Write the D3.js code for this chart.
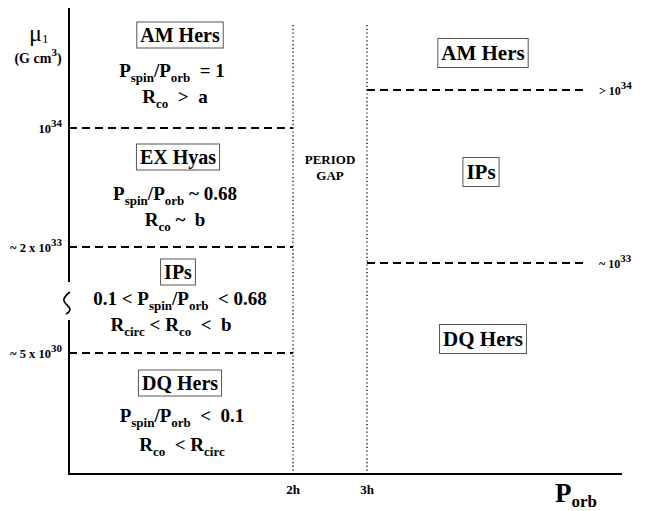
<!DOCTYPE html>
<html>
<head>
<meta charset="utf-8">
<script src="https://cdn.jsdelivr.net/npm/d3@7"></script>
<style>
  html, body { margin: 0; padding: 0; background: #fff; }
  svg { display: block; }
</style>
</head>
<body>
<svg id="chart" width="653" height="511"></svg>
<script>
// ---------- data ----------
const leftLogMu      = [34, 33.3, 30.7];                  // boundaries, log10(mu_1 / G cm^3)
const leftTickLabels = ["10", "~ 2 x 10", "~ 5 x 10"];
const leftTickExps   = ["34", "33", "30"];
const rightLogMu      = [34, 33];
const rightTickLabels = ["> 10", "~ 10"];
const rightTickExps   = ["34", "33"];
const gapHours  = [2, 3];
const gapLabels = ["2h", "3h"];
const leftClasses  = ["AM Hers", "EX Hyas", "IPs", "DQ Hers"];
const rightClasses = ["AM Hers", "IPs", "DQ Hers"];
// conditions for each left-hand class: [text, "sub"|undefined]
const leftConditions = [
  [[["P"],["spin","sub"],["/P"],["orb","sub"],["  = 1"]], [["R"],["co","sub"],["  >  a"]]],
  [[["P"],["spin","sub"],["/P"],["orb","sub"],[" ~ 0.68"]], [["R"],["co","sub"],[" ~  b"]]],
  [[["0.1 < P"],["spin","sub"],["/P"],["orb","sub"],["  < 0.68"]], [["R"],["circ","sub"],[" < R"],["co","sub"],["  <  b"]]],
  [[["P"],["spin","sub"],["/P"],["orb","sub"],["  <  0.1"]], [["R"],["co","sub"],["  < R"],["circ","sub"]]]
];

// ---------- scales ----------
const svg = d3.select("#chart")
  .style("font-family", "'Liberation Serif', 'Times New Roman', serif")
  .style("font-weight", "bold");
const x = d3.scaleLinear().domain([2, 3]).range([293, 367]);
const yLeft = d3.scaleLinear().domain([30.7, 33.3, 34]).range([353, 247, 128]);
const yRight = d3.scaleLinear().domain([33, 34]).range([263, 90]);

const axisX0 = 69, axisX1 = 622, axisYTop = 8, axisYBot = 474, breakTop = 282, breakBot = 320;

function rich(g, tx, ty, parts, size, subSize, anchor, subShift) {
  const t = g.append("text").attr("x", tx).attr("y", ty)
    .attr("text-anchor", anchor || "middle").attr("font-size", size)
    .style("font-family", "'Liberation Serif', serif").style("font-weight", "bold")
    .attr("xml:space", "preserve").style("white-space", "pre");
  let shift = 0;
  parts.forEach(([s, type]) => {
    const target = type === "sub" ? (subShift != null ? subShift : size * 0.28) : type === "sup" ? -size * 0.5 : 0;
    t.append("tspan").attr("dy", target - shift)
      .attr("font-size", type ? subSize : size).text(s);
    shift = target;
  });
  return t;
}
function plain(tx, ty, s, size, anchor) {
  return svg.append("text").attr("x", tx).attr("y", ty).attr("text-anchor", anchor || "middle")
    .attr("font-size", size).style("font-family", "'Liberation Serif', serif").style("font-weight", "bold")
    .text(s);
}

// ---------- axes ----------
const ax = svg.append("g").attr("stroke", "#000").attr("stroke-width", 2).attr("fill", "none");
ax.append("line").attr("x1", axisX0).attr("x2", axisX0).attr("y1", axisYTop).attr("y2", breakTop);
ax.append("line").attr("x1", axisX0).attr("x2", axisX0).attr("y1", breakBot).attr("y2", axisYBot + 1);
ax.append("line").attr("x1", axisX0 - 1).attr("x2", axisX1).attr("y1", axisYBot).attr("y2", axisYBot);
// axis-break squiggle
ax.append("path").attr("stroke-width", 1.6)
  .attr("d", "M70,292 C66,295 63,298 64,301 C65,304 70,307 70,309 C70,311 68,313 66,314");

// ---------- period gap dotted lines ----------
svg.append("g").selectAll("line").data(gapHours).join("line")
  .attr("x1", d => x(d)).attr("x2", d => x(d)).attr("y1", 25).attr("y2", axisYBot)
  .attr("stroke", "#000").attr("stroke-width", 1.3).attr("stroke-dasharray", "1.2,2.6");

gapLabels.forEach((d, i) => plain(x(gapHours[i]), 494, d, 13));

plain((x(2) + x(3)) / 2, 164, "PERIOD", 13);
plain((x(2) + x(3)) / 2, 180, "GAP", 13);

// ---------- boundaries ----------
svg.append("g").selectAll("line").data(leftLogMu).join("line")
  .attr("x1", axisX0).attr("x2", x(2)).attr("y1", d => yLeft(d)).attr("y2", d => yLeft(d))
  .attr("stroke", "#000").attr("stroke-width", 2).attr("stroke-dasharray", "8,5");
svg.append("g").selectAll("line").data(rightLogMu).join("line")
  .attr("x1", x(3)).attr("x2", 588).attr("y1", d => yRight(d)).attr("y2", d => yRight(d))
  .attr("stroke", "#000").attr("stroke-width", 2).attr("stroke-dasharray", "8,5");

leftLogMu.forEach((v, i) => {
  rich(svg, 62, yLeft(v) + 5, [[leftTickLabels[i]], [leftTickExps[i], "sup"]], 12.5, 11, "end");
});
rightLogMu.forEach((v, i) => {
  rich(svg, 599, yRight(v) + 5, [[rightTickLabels[i]], [rightTickExps[i], "sup"]], 12, 11, "start");
});

// ---------- axis titles ----------
svg.append("text").attr("x", 29).attr("y", 41).attr("font-size", 24)
  .style("font-family", "'Liberation Serif', serif").style("font-weight", "normal")
  .text("\u03bc").append("tspan").attr("dy", 2).attr("font-size", 13).text("1");
rich(svg, 38, 63, [["(G cm"], ["3", "sup"], [")"]], 14, 11, "middle");
rich(svg, 555, 502, [["P"], ["orb", "sub"]], 27, 17, "start", 5);

// ---------- class boxes ----------
function labelBox(cx, cy, label, size, padX, h) {
  const g = svg.append("g");
  const t = g.append("text").attr("x", cx).attr("y", cy + size * 0.33).attr("text-anchor", "middle")
    .attr("font-size", size).style("font-family", "'Liberation Serif', serif").style("font-weight", "bold")
    .text(label);
  const w = t.node().getComputedTextLength() + 2 * padX;
  g.insert("rect", "text").attr("x", cx - w / 2).attr("y", cy - h / 2).attr("width", w).attr("height", h)
    .attr("fill", "#fff").attr("stroke", "#555").attr("stroke-width", 1);
}

const leftCenters = [
  {box: [180, 35], lines: [[172, 77], [175, 103]]},
  {box: [178, 157], lines: [[175, 200], [175, 226]]},
  {box: [178, 272], lines: [[180, 305], [171, 331]]},
  {box: [180, 383], lines: [[182, 422], [182, 451]]}
];
leftClasses.forEach((c, i) => {
  const p = leftCenters[i];
  labelBox(p.box[0], p.box[1], c, 20, 3.5, 26);
  leftConditions[i].forEach((parts, j) => {
    rich(svg, p.lines[j][0], p.lines[j][1], parts, 19, 13, "middle");
  });
});

const rightCenters = [[483, 53], [481, 172], [483, 339]];
rightClasses.forEach((c, i) => {
  labelBox(rightCenters[i][0], rightCenters[i][1], c, 21, 3.5, 29);
});
</script>
</body>
</html>
